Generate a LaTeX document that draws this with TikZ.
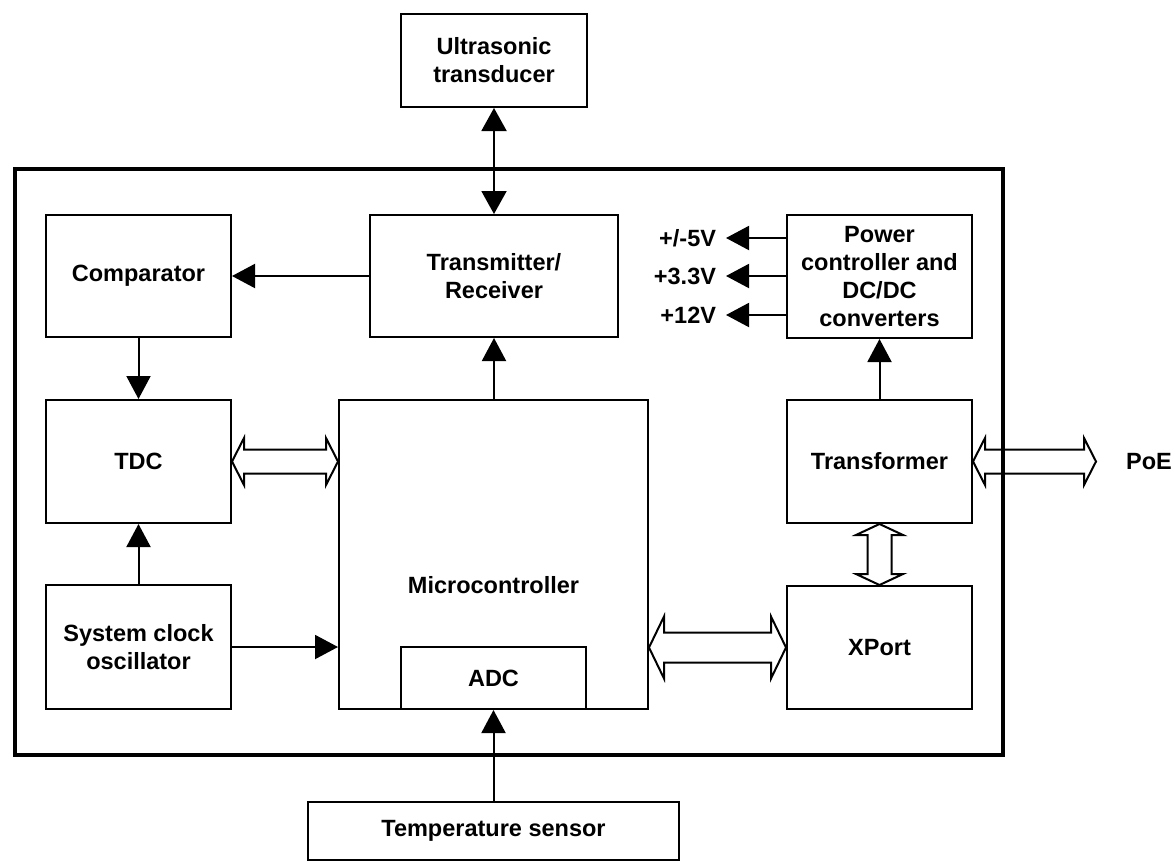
\documentclass[tikz,border=0pt]{standalone}
\usepackage{fontspec}
\setmainfont{Liberation Sans}
\usetikzlibrary{arrows.meta,calc}
\newcommand\fatH[5]{\draw[fatln] (#1) -- ($(#1)+(#3,-#5)$) -- ($(#1)+(#3,-#4)$) -- ($(#2)+(-#3,-#4)$) -- ($(#2)+(-#3,-#5)$) -- (#2) -- ($(#2)+(-#3,#5)$) -- ($(#2)+(-#3,#4)$) -- ($(#1)+(#3,#4)$) -- ($(#1)+(#3,#5)$) -- cycle;}
\newcommand\fatV[5]{\draw[fatln] (#1) -- ($(#1)+(-#5,#3)$) -- ($(#1)+(-#4,#3)$) -- ($(#2)+(-#4,-#3)$) -- ($(#2)+(-#5,-#3)$) -- (#2) -- ($(#2)+(#5,-#3)$) -- ($(#2)+(#4,-#3)$) -- ($(#1)+(#4,#3)$) -- ($(#1)+(#5,#3)$) -- cycle;}
\begin{document}
\begin{tikzpicture}[x=1pt,y=-1pt,
  txt/.style={font=\fontsize{23.5}{28}\selectfont\bfseries},
  box/.style={draw,line width=2pt,inner sep=0pt,align=center,txt},
  lbl/.style={inner sep=0pt,txt},
  vlbl/.style={inner sep=0pt,outer xsep=10pt,text height=16.8pt,text depth=0pt,anchor=east,txt},
  arr/.style={line width=2pt,-{Triangle[length=23pt,width=24pt]}},
  darr/.style={line width=2pt,{Triangle[length=23pt,width=25pt]}-{Triangle[length=23pt,width=25pt]}},
  fatln/.style={line width=2pt,fill=white},
  frame/.style={line width=4.5pt}]
\useasboundingbox (0,0) rectangle (1175,862);
\node[box,minimum width=186pt,minimum height=93pt] (ut) at (494,60.5) {Ultrasonic\\transducer};
\node[box,minimum width=248pt,minimum height=122pt] (tr) at (494,276) {Transmitter/\\Receiver};
\node[box,minimum width=185pt,minimum height=122pt] (cmp) at (138.5,276) {Comparator};
\node[box,minimum width=185pt,minimum height=123pt] (tdc) at (138.5,461.5) {TDC};
\node[box,minimum width=185pt,minimum height=124pt] (clk) at (138.5,647) {System clock\\oscillator};
\node[box,minimum width=309pt,minimum height=309pt] (mc) at (493.5,554.5) {};
\node[lbl] (mclbl) at (493.5,585) {Microcontroller};
\node[box,minimum width=185pt,minimum height=62pt] (adc) at (493.5,678) {ADC};
\node[box,minimum width=185pt,minimum height=123pt] (pw) at (879.5,276.5) {Power\\controller and\\DC/DC\\converters};
\node[box,minimum width=185pt,minimum height=123pt] (tf) at (879.5,461.5) {Transformer};
\node[box,minimum width=185pt,minimum height=123pt] (xp) at (879.5,647.5) {XPort};
\node[box,minimum width=371pt,minimum height=58pt] (ts) at (493.5,831) {Temperature sensor};
\node[vlbl] (v5) at (726,238) {+/-5V};
\node[vlbl] (v33) at (726,276) {+3.3V};
\node[vlbl] (v12) at (726,315) {+12V};
\node[lbl,anchor=west] (poe) at (1126,461.5) {PoE};
% connectors
\draw[darr] (ut.south) -- (tr.north);
\draw[arr] (tr.west) -- (cmp.east);
\draw[arr] (cmp.south) -- (tdc.north);
\draw[arr] (clk.north) -- (tdc.south);
\draw[arr] (clk.east) -- (mc.west |- clk.east);
\draw[arr] (mc.north -| tr.south) -- (tr.south);
\draw[arr] (ts.north) -- (adc.south);
\draw[arr] (tf.north) -- (pw.south);
\draw[arr] (pw.west |- v5.east) -- (v5.east);
\draw[arr] (pw.west |- v33.east) -- (v33.east);
\draw[arr] (pw.west |- v12.east) -- (v12.east);
% wide double arrows
\coordinate (tdcR) at (tdc.east);
\coordinate (mcL) at (mc.west |- tdc.east);
\fatH{tdcR}{mcL}{12}{12}{23.5}
\coordinate (mcR) at (mc.east |- xp.west);
\coordinate (xpL) at (xp.west);
\fatH{mcR}{xpL}{15}{15}{31}
\coordinate (tfR) at (tf.east);
\coordinate (poeTip) at (1096,461.5);
\fatH{tfR}{poeTip}{12}{12}{23.5}
\coordinate (tfB) at (tf.south);
\coordinate (xpT) at (xp.north);
\fatV{tfB}{xpT}{11}{12}{23.5}
% outer frame on top
\draw[frame] (15,169) rectangle (1003,755);
\end{tikzpicture}
\end{document}
